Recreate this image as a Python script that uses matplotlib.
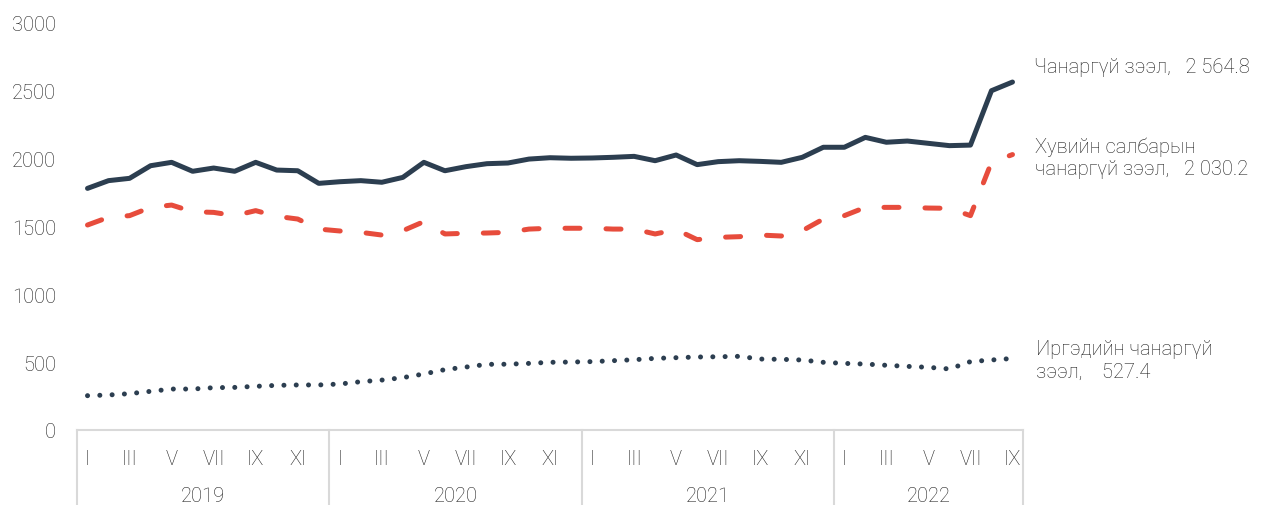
import matplotlib.pyplot as plt
import numpy as np

plt.rcParams['font.family'] = ['Roboto', 'DejaVu Sans']
plt.rcParams['font.weight'] = 'light'

# monthly values, Jan 2019 .. Sep 2022
years = ["2019", "2020", "2021", "2022"]
months_per_year = [12, 12, 12, 9]
roman = ["I", "II", "III", "IV", "V", "VI", "VII", "VIII", "IX", "X", "XI", "XII"]

total_npl = [1781, 1838, 1855, 1948, 1973, 1907, 1931, 1907, 1973, 1916, 1911, 1818,
             1830, 1838, 1826, 1862, 1973, 1911, 1941, 1963, 1968, 1997, 2007, 2003,
             2005, 2010, 2017, 1985, 2027, 1956, 1978, 1985, 1980, 1973, 2010, 2084,
             2084, 2157, 2121, 2130, 2113, 2096, 2100, 2501, 2564.8]
private_npl = [1511, 1568, 1580, 1641, 1658, 1609, 1604, 1580, 1617, 1575, 1555, 1481,
               1467, 1457, 1437, 1469, 1536, 1445, 1450, 1452, 1457, 1481, 1487, 1487,
               1487, 1481, 1481, 1445, 1477, 1403, 1420, 1425, 1437, 1430, 1469, 1555,
               1580, 1641, 1641, 1641, 1636, 1634, 1580, 1973, 2030.2]
household_npl = [253, 258, 268, 285, 302, 302, 312, 314, 322, 329, 332, 332,
                 339, 356, 368, 386, 413, 445, 464, 484, 485, 491, 499, 501,
                 504, 511, 518, 528, 533, 538, 540, 543, 523, 521, 516, 499,
                 491, 486, 477, 469, 462, 450, 504, 516, 527.4]

labels = ["Чанаргүй зээл,", "Хувийн салбарын\nчанаргүй зээл,", "Иргэдийн чанаргүй\nзээл,"]
navy = "#2c3e50"
red = "#e74c3c"
txt = "#1e1e1e"
grid = "#d9d9d9"

def fmt(v):
    return f"{v:,.1f}".replace(",", " ")

fig = plt.figure(figsize=(12.67, 5.06), dpi=100)
ax = fig.add_axes([77 / 1267, 75 / 506, 946 / 1267, 407 / 506])

x = np.arange(len(total_npl))
ax.plot(x, total_npl, color=navy, lw=3.6, solid_capstyle='round', solid_joinstyle='round')
ax.plot(x, private_npl, color=red, lw=3.6, linestyle=(0, (3, 5.2)),
        dash_capstyle='round', dash_joinstyle='round')
ax.plot(x, household_npl, color=navy, lw=3.6, linestyle=(0, (0.01, 2.45)),
        dash_capstyle='round')

ax.set_xlim(-0.5, len(total_npl) - 0.5)
ax.set_ylim(0, 3000)
ax.set_yticks(np.arange(0, 3001, 500))
ax.tick_params(axis='y', length=0, pad=15, labelsize=14.5, labelcolor=txt)

ticks, ticklabels = [], []
start = 0
for n in months_per_year:
    for m in range(0, n, 2):
        ticks.append(start + m)
        ticklabels.append(roman[m])
    start += n
ax.set_xticks(ticks)
ax.set_xticklabels(ticklabels)
ax.tick_params(axis='x', length=0, pad=14, labelsize=14.5, labelcolor=txt)

for s in ['top', 'right', 'left']:
    ax.spines[s].set_visible(False)
ax.spines['bottom'].set_color(grid)
ax.spines['bottom'].set_linewidth(1.5)

# year separators and year labels
tr = ax.get_xaxis_transform()
start = -0.5
bounds = [start]
for n in months_per_year:
    start += n
    bounds.append(start)
for b in bounds:
    ax.plot([b, b], [0, -0.3], color=grid, lw=1.5, transform=tr, clip_on=False)
for i, y in enumerate(years):
    ax.text((bounds[i] + bounds[i + 1]) / 2, -0.162, y, transform=tr, ha='center', va='center',
            fontsize=14.5, color=txt)

# end labels
ends = [total_npl[-1], private_npl[-1], household_npl[-1]]
label_pos = [(45.0, 2676), (45.05, 2010), (45.1, 515)]
gaps = ["   ", "   ", "    "]
for lab, v, (lx, ly), g in zip(labels, ends, label_pos, gaps):
    ax.text(lx, ly, lab + g + fmt(v), ha='left', va='center', fontsize=14.5, color=txt,
            linespacing=1.25, clip_on=False)

fig.savefig("out.png", dpi=100)
